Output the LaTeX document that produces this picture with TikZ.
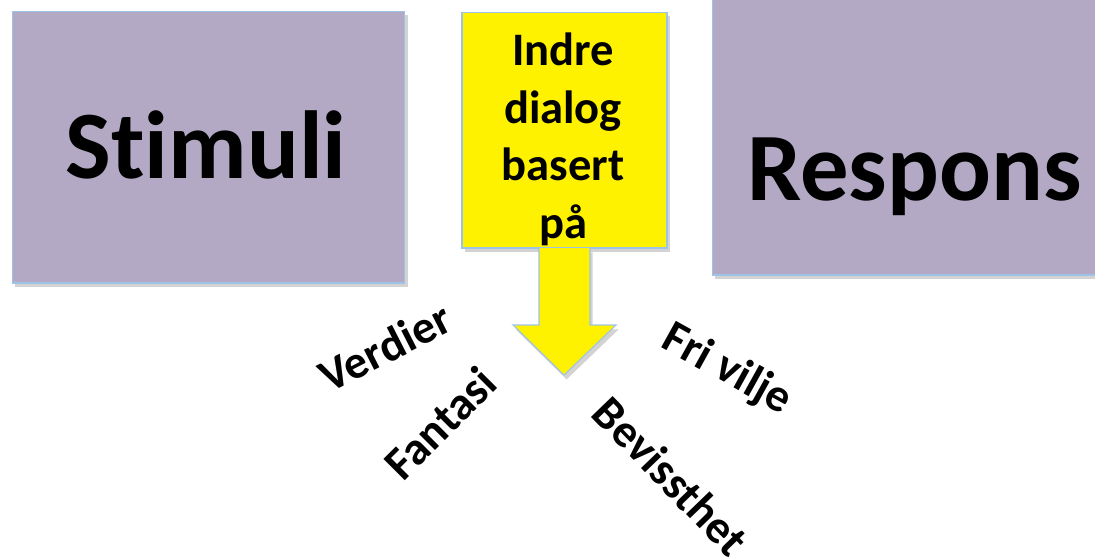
\documentclass[tikz,border=0pt]{standalone}
\usepackage{fontspec}
\setmainfont{Carlito}[Ligatures=NoCommon]
\usetikzlibrary{shadows}
\definecolor{lilac}{HTML}{B3A9C4}
\definecolor{edgeblue}{HTML}{9DC3E6}
\tikzset{box/.style={draw=edgeblue,line width=0.6pt,inner sep=0pt,
   drop shadow={shadow xshift=1.5pt,shadow yshift=-2.5pt,opacity=0.35}},
 lilacbox/.style={box,fill=lilac},
 big/.style={font=\fontsize{55}{66}\selectfont\bfseries,inner sep=0pt},
 small/.style={font=\fontsize{26.5}{33}\selectfont\bfseries,inner sep=0pt},
 }

\begin{document}
\begin{tikzpicture}[x=0.02cm,y=-0.02cm]
        \useasboundingbox (0,0) rectangle (1095,559);
        \node[lilacbox,minimum width=7.86cm,minimum height=5.44cm] (stim) at (208.5,147) {};
        \node[big,anchor=base] (stimtxt) at (206,178) {Stimuli};
        \node[lilacbox,minimum width=8.1cm,minimum height=6.7cm] (resp) at (914.5,107.5) {};
        \node[big,anchor=base] (resptxt) at (914.5,200) {Respons};
        \node[box,fill=yellow,minimum width=4.1cm,minimum height=4.72cm] (dlg) at (564.5,130) {};
        \draw[box,fill=yellow] (539,248) -- (539,325) -- (513,325) -- (564,375)
            -- (616,325) -- (590,325) -- (590,248);
        \node[small,align=center,anchor=north] (dlgtxt) at (563,32) {Indre\\dialog\\basert\\på};
        \foreach \name/\txt/\x/\y/\ang in {verd/Verdier/385/347/27, fant/Fantasi/440/423/45,
            fri/Fri vilje/727/370/-29, bev/Bevissthet/671/476/-46} {
            \node[small,rotate=\ang] (\name) at (\x,\y) {\txt};
        }
    \end{tikzpicture}
\end{document}
